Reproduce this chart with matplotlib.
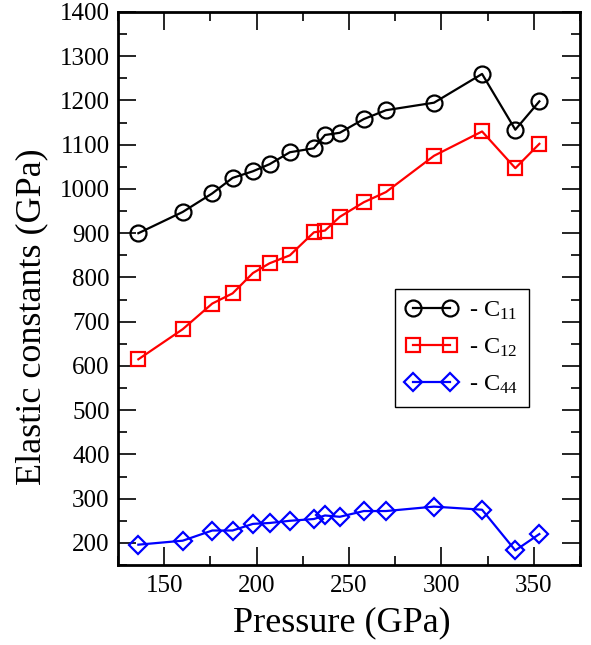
import numpy as np
import matplotlib
matplotlib.use("Agg")
import matplotlib.pyplot as plt
from matplotlib.ticker import MultipleLocator

plt.rcParams['font.family'] = ['Liberation Serif', 'DejaVu Serif']
plt.rcParams['mathtext.fontset'] = 'custom'
plt.rcParams['mathtext.rm'] = 'Liberation Serif'
plt.rcParams['mathtext.it'] = 'Liberation Serif:italic'

# data
pressure = [136, 160, 176, 187, 198, 207, 218, 231, 237, 245, 258, 270, 296, 322, 340, 353]
c11 = [900, 948, 990, 1025, 1040, 1056, 1083, 1092, 1122, 1127, 1158, 1178, 1195, 1260, 1134, 1198]
c12 = [615, 683, 741, 764, 810, 832, 850, 902, 906, 937, 970, 993, 1075, 1130, 1047, 1102]
c44 = [196, 205, 228, 228, 243, 245, 250, 254, 262, 259, 272, 272, 282, 275, 183, 220]

fig = plt.figure(figsize=(5.91, 6.45), dpi=100)
ax = fig.add_axes([0.1997, 0.124, 0.7817, 0.8574])

ax.plot(pressure, c11, color='black', lw=1.6, marker='o', ms=11.5,
        mfc='none', mew=1.6, label=r'- C$_{11}$')
ax.plot(pressure, c12, color='red', lw=1.6, marker='s', ms=9.5,
        mfc='none', mew=1.6, label=r'- C$_{12}$')
ax.plot(pressure, c44, color='blue', lw=1.6, marker='D', ms=8.8,
        mfc='none', mew=1.6, label=r'- C$_{44}$')

ax.set_xlim(125, 375)
ax.set_ylim(150, 1400)
ax.xaxis.set_major_locator(MultipleLocator(50))
ax.xaxis.set_minor_locator(MultipleLocator(25))
ax.yaxis.set_major_locator(MultipleLocator(100))
ax.yaxis.set_minor_locator(MultipleLocator(50))
ax.set_yticks(np.arange(200, 1401, 100))

for s in ax.spines.values():
    s.set_linewidth(2)
ax.tick_params(which='both', direction='in', top=True, right=True, width=1.2,
               labelsize=18)
ax.tick_params(which='major', length=13)
ax.tick_params(axis='y', which='major', pad=6)
ax.tick_params(axis='x', which='major', pad=7)
ax.tick_params(which='minor', length=6.5)

ax.set_xlabel('Pressure (GPa)', fontsize=26, labelpad=7, x=0.485)
ax.set_ylabel('Elastic constants (GPa)', fontsize=26, labelpad=8, y=0.449)

leg = ax.legend(loc='upper left', bbox_to_anchor=(0.599, 0.499), borderaxespad=0,
                numpoints=2, handlelength=2.12, fontsize=17.5, fancybox=False,
                edgecolor='black', framealpha=1, borderpad=0.44, labelspacing=0.6,
                handletextpad=0.49)
leg.get_frame().set_linewidth(1.0)

fig.savefig('out.png', dpi=100)
